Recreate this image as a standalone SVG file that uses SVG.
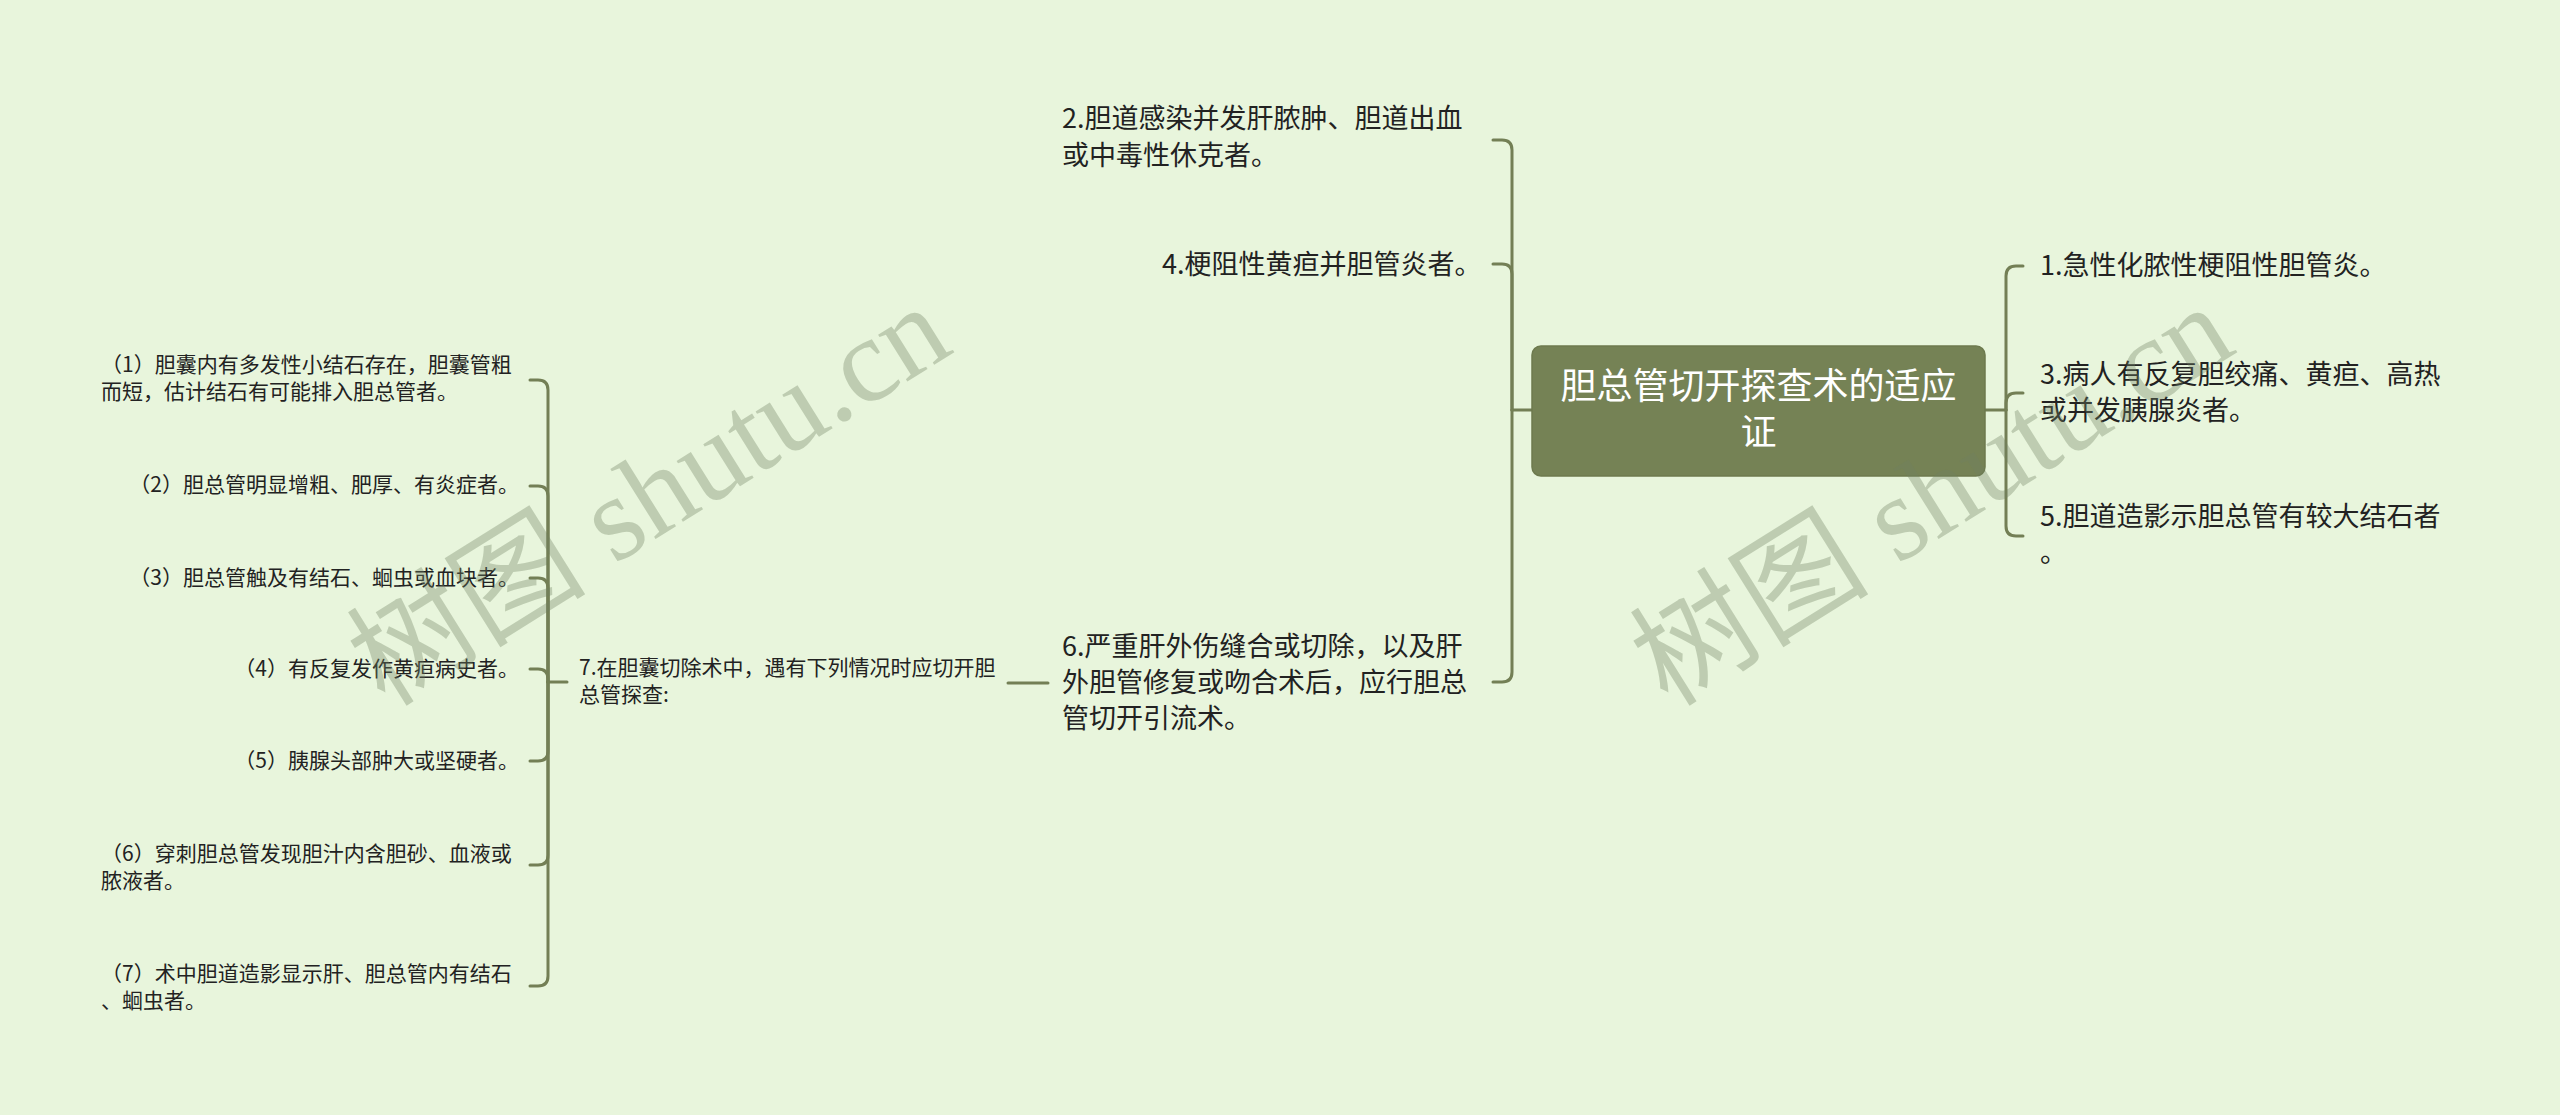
<svg xmlns="http://www.w3.org/2000/svg" width="2560" height="1115" viewBox="0 0 2560 1115">
<style>
.bg{fill:#e8f5dc}
.conn{fill:none;stroke:#737f55;stroke-width:3;stroke-linecap:round}
.t{font-family:"Noto Sans CJK SC","Noto Sans",sans-serif;fill:#222222}
.l1{font-size:27px}
.l2{font-size:21px}
.root{font-family:"Noto Sans CJK SC","Noto Sans",sans-serif;font-size:36px;fill:#ffffff}
.wm{font-family:"Liberation Serif","Noto Sans CJK SC",serif;font-size:120px;fill:#6f8060;fill-opacity:0.35}
</style>
<rect class="bg" x="0" y="0" width="2560" height="1115"/>
<g id="connectors">
<path class="conn" d="M1532,410 H1512"/>
<path class="conn" d="M1493,140 H1502 Q1512,140 1512,150 V410"/>
<path class="conn" d="M1493,264 H1502 Q1512,264 1512,274 V410"/>
<path class="conn" d="M1493,682 H1502 Q1512,682 1512,672 V410"/>
<path class="conn" d="M1985,410 H2006"/>
<path class="conn" d="M2023,266 H2016 Q2006,266 2006,276 V410"/>
<path class="conn" d="M2023,393 H2016 Q2006,393 2006,403 V410"/>
<path class="conn" d="M2023,536 H2016 Q2006,536 2006,526 V410"/>
<path class="conn" d="M1048,683 H1008"/>
<path class="conn" d="M567,682 H548"/>
<path class="conn" d="M530,380 H538 Q548,380 548,390 V682"/>
<path class="conn" d="M530,486 H538 Q548,486 548,496 V682"/>
<path class="conn" d="M530,578 H538 Q548,578 548,588 V682"/>
<path class="conn" d="M530,669 H538 Q548,669 548,679 V682"/>
<path class="conn" d="M530,761 H538 Q548,761 548,751 V682"/>
<path class="conn" d="M530,865 H538 Q548,865 548,855 V682"/>
<path class="conn" d="M530,986 H538 Q548,986 548,976 V682"/>
</g>
<g id="root">
<rect x="1532" y="346" width="453" height="130" rx="9" fill="#758255" stroke="#6d7a4e" stroke-width="1.5"/>
<text class="root" text-anchor="middle"><tspan x="1758.5" y="399">胆总管切开探查术的适应</tspan><tspan x="1758.5" y="445">证</tspan></text>
</g>
<g id="n1"><text class="t l1" x="2040" y="275">1.急性化脓性梗阻性胆管炎。</text></g>
<g id="n3"><text class="t l1"><tspan x="2040" y="384">3.病人有反复胆绞痛、黄疸、高热</tspan><tspan x="2040" y="420">或并发胰腺炎者。</tspan></text></g>
<g id="n5"><text class="t l1"><tspan x="2040" y="526">5.胆道造影示胆总管有较大结石者</tspan><tspan x="2040" y="562">。</tspan></text></g>
<g id="n2"><text class="t l1"><tspan x="1062" y="128">2.胆道感染并发肝脓肿、胆道出血</tspan><tspan x="1062" y="165">或中毒性休克者。</tspan></text></g>
<g id="n4"><text class="t l1" x="1162" y="274">4.梗阻性黄疸并胆管炎者。</text></g>
<g id="n6"><text class="t l1"><tspan x="1062" y="656">6.严重肝外伤缝合或切除，以及肝</tspan><tspan x="1062" y="692">外胆管修复或吻合术后，应行胆总</tspan><tspan x="1062" y="728">管切开引流术。</tspan></text></g>
<g id="n7"><text class="t l2"><tspan x="579" y="675">7.在胆囊切除术中，遇有下列情况时应切开胆</tspan><tspan x="579" y="702">总管探查:</tspan></text></g>
<g id="c1"><text class="t l2"><tspan x="101" y="372">（1）胆囊内有多发性小结石存在，胆囊管粗</tspan><tspan x="101" y="399">而短，估计结石有可能排入胆总管者。</tspan></text></g>
<g id="c2"><text class="t l2" x="519" y="492" text-anchor="end">（2）胆总管明显增粗、肥厚、有炎症者。</text></g>
<g id="c3"><text class="t l2" x="519" y="585" text-anchor="end">（3）胆总管触及有结石、蛔虫或血块者。</text></g>
<g id="c4"><text class="t l2" x="519" y="676" text-anchor="end">（4）有反复发作黄疸病史者。</text></g>
<g id="c5"><text class="t l2" x="519" y="768" text-anchor="end">（5）胰腺头部肿大或坚硬者。</text></g>
<g id="c6"><text class="t l2"><tspan x="101" y="861">（6）穿刺胆总管发现胆汁内含胆砂、血液或</tspan><tspan x="101" y="888">脓液者。</tspan></text></g>
<g id="c7"><text class="t l2"><tspan x="101" y="981">（7）术中胆道造影显示肝、胆总管内有结石</tspan><tspan x="101" y="1008">、蛔虫者。</tspan></text></g>
<g id="watermarks">
<text class="wm" transform="translate(385,708) rotate(-32)">树图 shutu.cn</text>
<text class="wm" transform="translate(1668,708) rotate(-32)">树图 shutu.cn</text>
</g>
</svg>
